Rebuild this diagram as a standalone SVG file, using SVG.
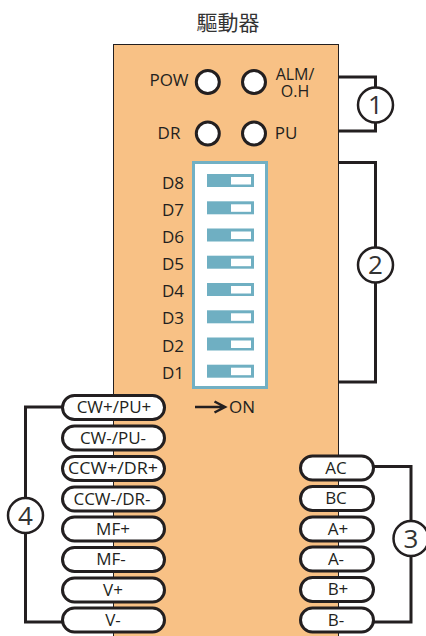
<svg xmlns="http://www.w3.org/2000/svg" width="426" height="636" viewBox="0 0 426 636">
<style>
text{font-family:"Open Sans","Noto Sans CJK TC",sans-serif;fill:#231f20;text-anchor:middle;font-size:17px}
.t{font-size:21px;font-family:"Noto Sans CJK TC",sans-serif;fill:#333}
.n{font-size:26px;fill:#333}
.s{font-size:16px}
.l{fill:#fff;stroke:#231f20;stroke-width:3}
.c{fill:none;stroke:#231f20;stroke-width:3}
.p{fill:#fff;stroke:#231f20;stroke-width:3}
.num{fill:#fff;stroke:#231f20;stroke-width:2.5}
.sw{fill:#6fafc2}
.sw2{fill:#fff}
</style>
<defs>
<g id="sw"><rect class="sw" x="207" y="-6.500" width="47" height="13"/><rect class="sw2" x="231" y="-3.500" width="20" height="7.500"/></g>
<rect id="lp" class="p" x="62.500" y="-12" width="102" height="24" rx="12"/>
<rect id="rp" class="p" x="300.500" y="-12" width="73" height="24" rx="12"/>
</defs>
<text class="t" x="228" y="30">驅動器</text>
<g id="driver"><rect x="113.500" y="44.500" width="225" height="600" fill="#f8c185" stroke="#231f20" stroke-width="1"/></g>
<g id="connectors">
<path class="c" d="M339 77H375.500V131H339"/>
<path class="c" d="M339 162.500H375.500V382H339"/>
<path class="c" d="M62 407H25.500V622H62"/>
<path class="c" d="M374 466.500H411V622H374"/>
<path d="M195 407H224M214.500 401.500L225 407L214.500 412.500" fill="none" stroke="#231f20" stroke-width="2.500"/>
</g>
<g id="leds">
<g id="led-pow"><circle class="l" cx="207.800" cy="82" r="11.500"/><text x="169" y="86">POW</text></g>
<g id="led-alm"><circle class="l" cx="254" cy="82" r="11.500"/><text class="s" y="80"><tspan x="295">ALM/</tspan><tspan x="295" y="97">O.H</tspan></text></g>
<g id="led-dr"><circle class="l" cx="207.800" cy="133.500" r="11.500"/><text x="169" y="139">DR</text></g>
<g id="led-pu"><circle class="l" cx="254" cy="133.500" r="11.500"/><text x="286" y="139">PU</text></g>
</g>
<g id="dip">
<rect x="193.500" y="162.500" width="73" height="225" fill="#fff" stroke="#72b0c4" stroke-width="3"/>
<use href="#sw" y="180.500"/><use href="#sw" y="207.800"/><use href="#sw" y="235"/><use href="#sw" y="262.200"/><use href="#sw" y="289.500"/><use href="#sw" y="316.800"/><use href="#sw" y="344"/><use href="#sw" y="371.200"/>
<text x="173" y="189">D8</text><text x="173" y="216">D7</text><text x="173" y="243">D6</text><text x="173" y="270">D5</text><text x="173" y="297">D4</text><text x="173" y="324">D3</text><text x="173" y="352">D2</text><text x="173" y="379">D1</text>
</g>
<text id="on" x="242" y="413">ON</text>
<g id="left-terminals">
<g><use href="#lp" y="407.500"/><text x="114" y="413">CW+/PU+</text></g>
<g><use href="#lp" y="438"/><text x="113" y="444">CW-/PU-</text></g>
<g><use href="#lp" y="468.500"/><text x="113" y="474" textLength="90" lengthAdjust="spacingAndGlyphs">CCW+/DR+</text></g>
<g><use href="#lp" y="499"/><text x="112" y="505">CCW-/DR-</text></g>
<g><use href="#lp" y="529"/><text x="113" y="535">MF+</text></g>
<g><use href="#lp" y="559.500"/><text x="111" y="565">MF-</text></g>
<g><use href="#lp" y="590"/><text x="113" y="596">V+</text></g>
<g><use href="#lp" y="620"/><text x="113" y="626">V-</text></g>
</g>
<g id="right-terminals">
<g><use href="#rp" y="468"/><text x="336" y="474">AC</text></g>
<g><use href="#rp" y="498.500"/><text x="336" y="504">BC</text></g>
<g><use href="#rp" y="529"/><text x="338" y="535">A+</text></g>
<g><use href="#rp" y="559"/><text x="336" y="565">A-</text></g>
<g><use href="#rp" y="589.500"/><text x="338" y="595">B+</text></g>
<g><use href="#rp" y="620"/><text x="336" y="626">B-</text></g>
</g>
<g id="n1"><circle class="num" cx="375.500" cy="105" r="17.500"/><text class="n" x="375.500" y="114">1</text></g>
<g id="n2"><circle class="num" cx="375.500" cy="265" r="17.500"/><text class="n" x="375.500" y="274">2</text></g>
<g id="n3"><circle class="num" cx="411" cy="538.500" r="17.500"/><text class="n" x="411" y="548">3</text></g>
<g id="n4"><circle class="num" cx="25.500" cy="515.500" r="17.500"/><text class="n" x="25.500" y="525">4</text></g>
</svg>
